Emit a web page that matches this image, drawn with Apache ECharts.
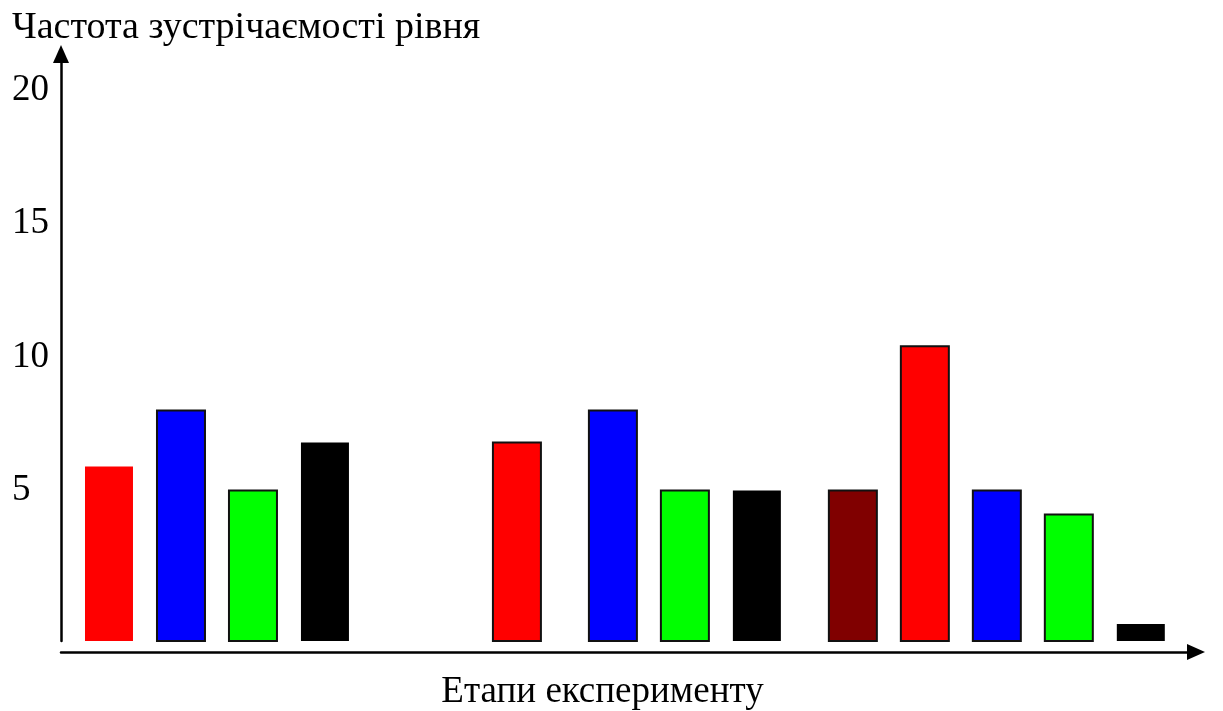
<!DOCTYPE html>
<html>
<head>
<meta charset="utf-8">
<title>Частота зустрічаємості рівня</title>
<script src="https://cdn.jsdelivr.net/npm/echarts@6/dist/echarts.min.js"></script>
<style>
  html, body { margin: 0; padding: 0; background: #fff; }
  #chart { width: 1223px; height: 711px; }
</style>
</head>
<body>
<div id="chart"></div>
<script>
// Frequency of each level across the three experiment stages
const barX = [2, 5, 8, 11, 19, 23, 26, 29, 33, 36, 39, 42, 45];
const barValues = [5.9, 8, 5, 6.8, 6.8, 8, 5, 5, 5, 10.4, 5, 4.1, 0];
const yTickLabels = [5, 10, 15, 20];

// Styling for each bar (fill and outline)
const barColors = ['#ff0000', '#0000ff', '#00ff00', '#000000',
                   '#ff0000', '#0000ff', '#00ff00', '#000000',
                   '#800000', '#ff0000', '#0000ff', '#00ff00', '#000000'];
const barOutlined = [false, true, true, false, true, true, true, false, true, true, true, true, false];

const FONT = '"Liberation Serif", "DejaVu Serif", serif';
const Y_MIN = -0.637;
const Y_MAX = 21.35;
const X_MAX = 47.3;
const BAR_SPAN = 2;

const chart = echarts.init(document.getElementById('chart'), null, { renderer: 'canvas' });

chart.setOption({
  animation: false,
  backgroundColor: '#ffffff',
  title: {
    text: 'Частота зустрічаємості рівня',
    left: 12,
    top: 9,
    padding: 0,
    textStyle: { fontFamily: FONT, fontSize: 38, fontWeight: 'normal', color: '#000', lineHeight: 38 }
  },
  grid: { left: 61, right: 27, top: 54, bottom: 70, containLabel: false, outerBoundsMode: 'none' },
  xAxis: {
    type: 'value',
    min: 0,
    max: X_MAX,
    offset: 11,
    name: 'Етапи експерименту',
    nameLocation: 'middle',
    nameGap: 22,
    nameTextStyle: { fontFamily: FONT, fontSize: 37, color: '#000', padding: [0, 52, 0, 0] },
    axisLine: {
      show: true,
      onZero: false,
      symbol: ['none', 'triangle'],
      symbolSize: [16, 18],
      lineStyle: { color: '#000', width: 2.5 }
    },
    axisTick: { show: false },
    axisLabel: { show: false },
    splitLine: { show: false }
  },
  yAxis: {
    type: 'value',
    min: Y_MIN,
    max: Y_MAX,
    axisLine: {
      show: true,
      onZero: false,
      symbol: ['none', 'triangle'],
      symbolSize: [16, 18],
      lineStyle: { color: '#000', width: 2.5 }
    },
    axisTick: { show: false },
    splitLine: { show: false },
    axisLabel: {
      customValues: yTickLabels,
      align: 'left',
      margin: 49,
      fontFamily: FONT,
      fontSize: 37,
      color: '#000'
    }
  },
  series: [{
    type: 'custom',
    data: barX.map((x, i) => [x, barValues[i]]),
    renderItem: function (params, api) {
      const i = params.dataIndex;
      const top = api.coord([api.value(0), api.value(1)]);
      const base = api.coord([api.value(0), Y_MIN]);
      const w = api.size([BAR_SPAN, 0])[0];
      return {
        type: 'rect',
        shape: { x: top[0] - w / 2, y: top[1], width: w, height: base[1] - top[1] },
        style: {
          fill: barColors[i],
          stroke: barOutlined[i] ? '#111' : null,
          lineWidth: barOutlined[i] ? 2 : 0
        }
      };
    }
  }]
});
</script>
</body>
</html>
